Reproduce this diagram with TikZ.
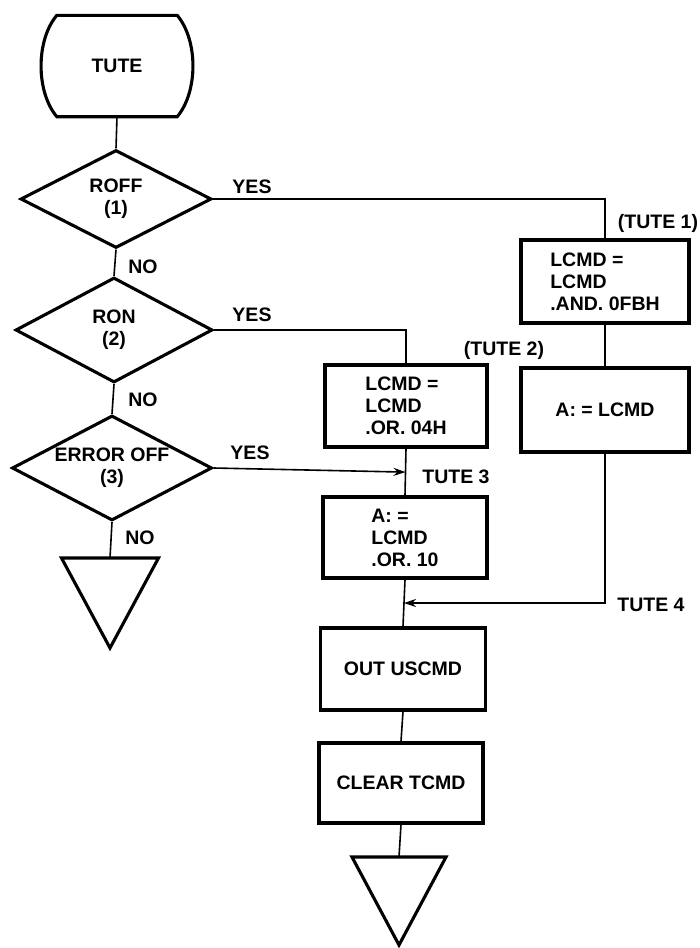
\documentclass[tikz,border=0pt]{standalone}
\usepackage{fontspec}
\setmainfont{Liberation Sans}
\usetikzlibrary{shapes.geometric,arrows.meta,calc}
\begin{document}
\begin{tikzpicture}[x=1pt,y=-1pt,
  font=\fontsize{19.5}{22}\selectfont\bfseries,
  boxnode/.style={draw,line width=3.3pt,rectangle,inner sep=0pt,align=left},
  decnode/.style={draw,line width=3.1pt,diamond,aspect=2,inner sep=0pt,align=center},
  conn/.style={line width=1.6pt},
  arr/.style={conn,-{Stealth[length=12pt,width=8pt]}},
  outline/.style={line width=3.1pt,line join=miter},
  lbl/.style={inner sep=0pt}]
\useasboundingbox (0,0) rectangle (700,948);

% left column
\node[rectangle,inner sep=0pt,minimum width=120pt,minimum height=101pt] (tute) at (117,66) {TUTE};
\draw[outline] (tute.north west) -- (tute.north east)
  .. controls +(21,25) and +(21,-25) .. (tute.south east)
  -- (tute.south west)
  .. controls +(-21,-25) and +(-21,25) .. (tute.north west) -- cycle;
\node[decnode,minimum width=191pt,minimum height=98pt] (d1) at (116,199) {ROFF\\(1)};
\node[decnode,minimum width=197pt,minimum height=105pt] (d2) at (114,330) {RON\\(2)};
\node[decnode,minimum width=200pt,minimum height=105pt] (d3) at (112,468) {ERROR OFF\\(3)};
\coordinate (end1) at (110,558);
\draw[outline] (end1) ++(-48.5,0) -- ++(97,0) -- ++(-48.5,90) -- cycle;

% right column
\node[boxnode,minimum width=168pt,minimum height=83pt] (b1) at (605,281.5) {LCMD =\\LCMD\\.AND. 0FBH};
\node[boxnode,minimum width=168pt,minimum height=84pt] (b1a) at (605,410) {A: = LCMD};

% main column
\node[boxnode,minimum width=162pt,minimum height=82pt] (b2) at (406,406) {LCMD =\\LCMD\\.OR. 04H};
\node[boxnode,minimum width=164pt,minimum height=81pt] (b3) at (405,537.5) {A: =\\LCMD\\.OR. 10};
\node[boxnode,minimum width=165pt,minimum height=82pt,align=center] (out) at (403,669) {OUT USCMD};
\node[boxnode,minimum width=164pt,minimum height=80pt,align=center] (clr) at (401,783) {CLEAR TCMD};
\coordinate (end2) at (399,857);
\draw[outline] (end2) ++(-47,0) -- ++(94,0) -- ++(-47,88) -- cycle;

% connectors
\draw[conn] (tute.south) -- (d1.north);
\draw[conn] (d1.east) -| (b1.north);
\draw[conn] (d1.south) -- (d2.north);
\draw[conn] (d2.east) -| (b2.north);
\draw[conn] (d2.south) -- (d3.north);
\draw[conn] (d3.south) -- (end1);
\draw[conn] (b2.south) -- (b3.north);
\draw[arr] (d3.east) -- ($(b2.south)!(d3.east)!(b3.north)$);
\draw[conn] (b1.south) -- (b1a.north);
\coordinate (j4) at ($(b3.south)!0.5!(out.north)$);
\draw[arr] (b1a.south) |- (j4);
\draw[conn] (b3.south) -- (out.north);
\draw[conn] (out.south) -- (clr.north);
\draw[conn] (clr.south) -- (end2);

% labels
\node[lbl] (yes1) at (252,187) {YES};
\node[lbl] (yes2) at (252,315) {YES};
\node[lbl] (yes3) at (250,453) {YES};
\node[lbl] (no1) at (143,267) {NO};
\node[lbl] (no2) at (143,400) {NO};
\node[lbl] (no3) at (140,538) {NO};
\node[lbl] (t1) at (658,223) {(TUTE 1)};
\node[lbl] (t2) at (504,350) {(TUTE 2)};
\node[lbl] (t3) at (456,477) {TUTE 3};
\node[lbl] (t4) at (651,605) {TUTE 4};
\end{tikzpicture}
\end{document}
